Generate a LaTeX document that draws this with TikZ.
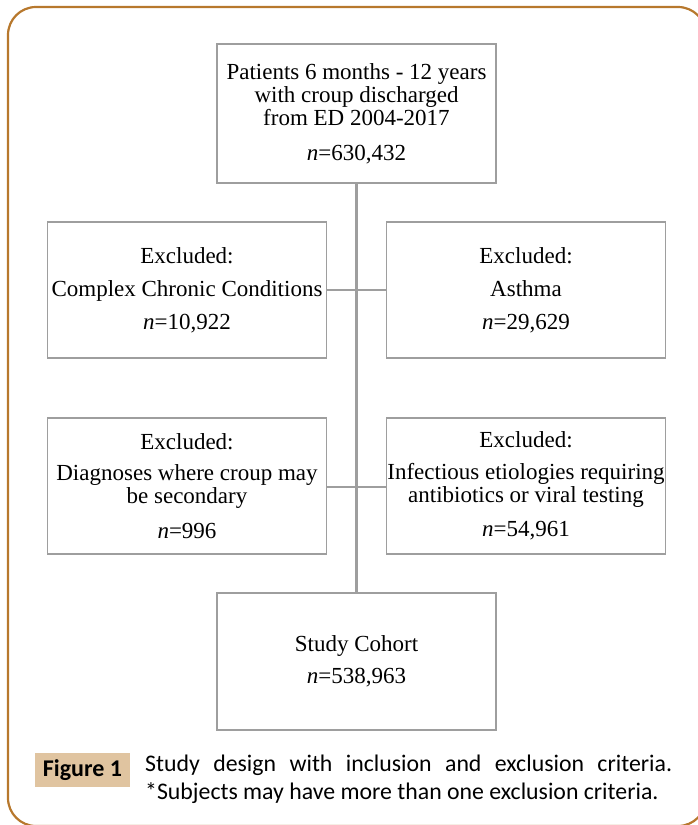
\documentclass[tikz,border=0pt]{standalone}
\usepackage{fontspec}
\setmainfont{Liberation Serif}
\newfontfamily\capfont{Carlito}
\definecolor{framebrown}{RGB}{183,120,45}
\definecolor{captan}{RGB}{224,196,160}
\definecolor{boxgray}{RGB}{158,158,158}
\tikzset{
  flowbox/.style={draw=boxgray, line width=1.6pt, minimum width=279pt, inner sep=0pt,
    align=center, font=\fontsize{23}{23.2}\selectfont},
  trunk/.style={draw=boxgray, line width=2.6pt},
  branch/.style={draw=boxgray, line width=1.5pt}
}
\begin{document}
\begin{tikzpicture}[x=1pt,y=-1pt]
\useasboundingbox (0,0) rectangle (698,825);
\draw[framebrown, line width=2.2pt, rounded corners=28pt] (8,7) rectangle (706,826);

\node[flowbox, minimum height=139pt] (top) at (356.5,113.5)
  {Patients 6 months - 12 years\\with croup discharged\\from ED 2004-2017\\[11pt]\textit{n}=630,432};
\node[flowbox, minimum height=136pt] (l1) at (187,290)
  {Excluded:\\[10pt]Complex Chronic Conditions\\[10pt]\textit{n}=10,922};
\node[flowbox, minimum height=136pt] (r1) at (526,290)
  {Excluded:\\[10pt]Asthma\\[10pt]\textit{n}=29,629};
\node[flowbox, minimum height=136pt] (l2) at (187,486)
  {Excluded:\\[8pt]Diagnoses where croup may\\be secondary\\[11pt]\textit{n}=996};
\node[flowbox, minimum height=136pt] (r2) at (526,486)
  {Excluded:\\[8pt]Infectious etiologies requiring\\antibiotics or viral testing\\[11pt]\textit{n}=54,961};
\node[flowbox, minimum height=137pt] (bot) at (356.5,661.5)
  {Study Cohort\\[9pt]\textit{n}=538,963};

\draw[trunk] (top.south) -- (bot.north);
\draw[branch] (l1.east) -- (r1.west);
\draw[branch] ([yshift=-1pt]l2.east) -- ([yshift=-1pt]r2.west);

\node[fill=captan, minimum width=95pt, minimum height=34pt, inner sep=0pt,
  font=\capfont\bfseries\fontsize{24}{28}\selectfont] (figlab) at (82.5,769.7) {Figure 1};
\node[anchor=north west, inner sep=0pt, text width=527pt, align=justify,
  font=\capfont\fontsize{23.8}{28}\selectfont] (cap) at (145,755)
  {Study design with inclusion and exclusion criteria.\linebreak *Subjects may have more than one exclusion criteria.};
\end{tikzpicture}
\end{document}
